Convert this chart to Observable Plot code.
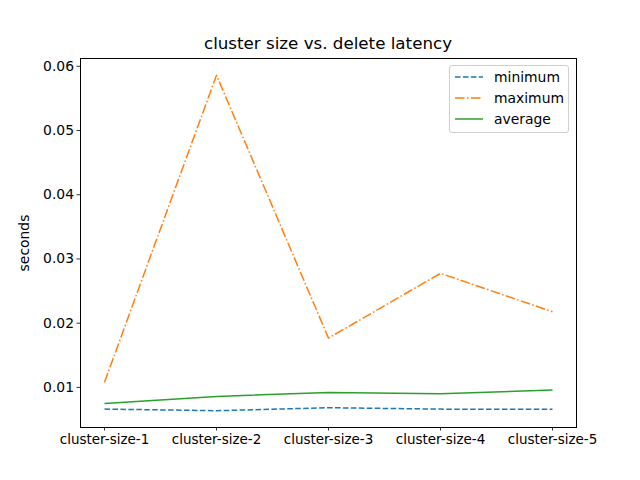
<!DOCTYPE html>
<html>
<head>
<meta charset="utf-8">
<script src="https://cdn.jsdelivr.net/npm/d3@7"></script>
<script src="https://cdn.jsdelivr.net/npm/@observablehq/plot@0.6"></script>
<style>
  body { margin: 0; background: #fff; font-family: "DejaVu Sans", sans-serif; }
  #wrap { position: relative; width: 640px; height: 480px; }
  #title { position: absolute; left: 80px; width: 496px; top: 33px; text-align: center; font-size: 16.7px; color: #000; line-height: 20px; }
  #legend { position: absolute; left: 449px; top: 65px; width: 118px; height: 66px; border: 1px solid #d0d0d0; border-radius: 3px; background: rgba(255,255,255,0.8); font-size: 13.9px; }
  .row { position: absolute; left: 5px; height: 20px; display: flex; align-items: center; }
  .row svg { margin-right: 11px; }
</style>
</head>
<body>
<div id="wrap">
  <div id="chart"></div>
  <div id="title">cluster size vs. delete latency</div>
  <div id="legend"></div>
</div>
<script>
const categories = ["cluster-size-1", "cluster-size-2", "cluster-size-3", "cluster-size-4", "cluster-size-5"];
const minimum = [0.00663, 0.00637, 0.00684, 0.00662, 0.0066];
const maximum = [0.0108, 0.0586, 0.01768, 0.02776, 0.02178];
const average = [0.0075, 0.0086, 0.0092, 0.0090, 0.0096];
const seriesNames = ["minimum", "maximum", "average"];
const seriesColors = ["#1f77b4", "#ff7f0e", "#2ca02c"];
const seriesDash = ["5.55,2.4", "9.6,2.4,1.5,2.4", null];
const yTicks = [0.01, 0.02, 0.03, 0.04, 0.05, 0.06];

const seriesValues = [minimum, maximum, average];
const data = [];
seriesNames.forEach((s, i) => categories.forEach((c, j) => data.push({series: s, cat: c, v: seriesValues[i][j]})));

const allV = seriesValues.flat();
const lo = d3.min(allV), hi = d3.max(allV), pad = (hi - lo) * 0.05;

const lineMarks = seriesNames.map((s, i) => Plot.line(data.filter(d => d.series === s), {
  x: "cat", y: "v", stroke: seriesColors[i], strokeWidth: 1.5,
  strokeDasharray: seriesDash[i] || undefined, strokeLinecap: "butt", strokeLinejoin: "round"
}));

const chart = Plot.plot({
  width: 640, height: 480,
  marginLeft: 80, marginRight: 64, marginTop: 58, marginBottom: 53,
  style: {fontFamily: "DejaVu Sans, sans-serif", fontSize: "13.9px", color: "#000", background: "#fff"},
  x: {type: "point", domain: categories, padding: 0.2},
  y: {domain: [lo - pad, hi + pad]},
  marks: [
    ...lineMarks,
    Plot.frame({stroke: "#000", strokeWidth: 1}),
    Plot.axisX({ticks: categories, tickSize: 3.5, tickPadding: 3, label: null, fontSize: 13.5, stroke: "#000", strokeWidth: 0.8}),
    Plot.axisY({ticks: yTicks, tickFormat: d3.format(".2f"), tickSize: 3.5, tickPadding: 3, label: "seconds", labelAnchor: "center", labelArrow: "none", labelOffset: 61, fontSize: 13.9, stroke: "#000", strokeWidth: 0.8})
  ]
});
document.getElementById("chart").appendChild(chart);

const legend = document.getElementById("legend");
seriesNames.forEach((s, i) => {
  const row = document.createElement("div");
  row.className = "row";
  row.style.top = (1 + i * 21) + "px";
  const svg = d3.create("svg").attr("width", 28).attr("height", 10);
  svg.append("line").attr("x1", 0).attr("x2", 28).attr("y1", 5).attr("y2", 5)
    .attr("stroke", seriesColors[i]).attr("stroke-width", 1.5)
    .attr("stroke-dasharray", seriesDash[i]);
  row.appendChild(svg.node());
  const t = document.createElement("span");
  t.textContent = s;
  row.appendChild(t);
  legend.appendChild(row);
});
</script>
</body>
</html>
